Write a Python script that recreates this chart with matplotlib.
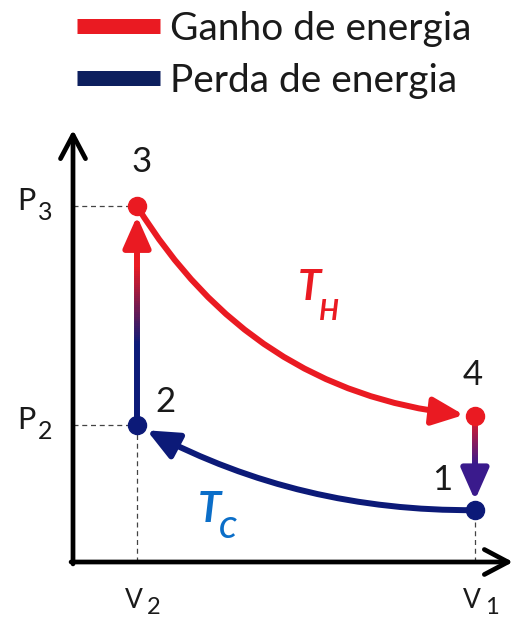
import matplotlib
matplotlib.use("Agg")
import matplotlib.pyplot as plt
import numpy as np
from matplotlib.patches import FancyArrowPatch
from matplotlib.collections import LineCollection
from matplotlib.colors import to_rgb
from matplotlib.lines import Line2D

plt.rcParams['font.family'] = ['Lato', 'DejaVu Sans']

# ---- data (arbitrary P-V units) ----
states = ['1', '2', '3', '4']
volume = [6.28, 1.0, 1.0, 6.28]        # V1, V2, V2, V1
pressure = [0.81, 2.14, 5.56, 2.28]
v_ticks = [1.0, 6.28]
v_tick_labels = [('V', '2'), ('V', '1')]
p_ticks = [2.14, 5.56]
p_tick_labels = [('P', '2'), ('P', '3')]
legend_labels = ['Ganho de energia', 'Perda de energia']
isotherm_labels = [('T', 'H'), ('T', 'C')]

RED = '#ea1a22'
NAVY = '#0c1a78'
PURPLE = '#3a1a8c'
TC_BLUE = '#0b6ec8'

W, H = 516, 621
X0, Y0, S = 73, 562, 64          # pixel position of origin and px per unit

fig = plt.figure(figsize=(W / 100, H / 100), dpi=100)
ax = fig.add_axes([0, 0, 1, 1])
ax.set_xlim(-X0 / S, (W - X0) / S)
ax.set_ylim(-(H - Y0) / S, Y0 / S)
ax.axis('off')


def px(x, y):
    return ((x - X0) / S, (Y0 - y) / S)


# ---- axes with arrows ----
axis_style = '->,head_length=0.85,head_width=0.45'
ax.annotate('', xy=(0, px(0, 130)[1]), xytext=(0, -0.03),
            arrowprops=dict(arrowstyle=axis_style, lw=3.4, color='black',
                            shrinkA=0, shrinkB=0, mutation_scale=20))
ax.annotate('', xy=(px(513, 0)[0], 0), xytext=(-0.03, 0),
            arrowprops=dict(arrowstyle=axis_style, lw=3.4, color='black',
                            shrinkA=0, shrinkB=0, mutation_scale=20))

# ---- dashed guide lines ----
dash = dict(color='#444444', lw=0.9, ls=(0, (4, 3)), zorder=1)
for p in p_ticks:
    ax.plot([0, v_ticks[0]], [p, p], **dash)
ax.plot([v_ticks[0], v_ticks[0]], [0, pressure[1]], **dash)
ax.plot([v_ticks[1], v_ticks[1]], [0, pressure[0]], **dash)

# ---- isotherm curves ----
head = '-|>,head_length=0.95,head_width=0.42'
a34 = FancyArrowPatch((volume[2], pressure[2]), (volume[3], pressure[3]),
                      connectionstyle='arc3,rad=0.25', arrowstyle=head,
                      mutation_scale=20, lw=4.3, color=RED,
                      shrinkA=0, shrinkB=8, zorder=3)
ax.add_patch(a34)
a12 = FancyArrowPatch((volume[0], pressure[0]), (volume[1], pressure[1]),
                      connectionstyle='arc3,rad=-0.13', arrowstyle=head,
                      mutation_scale=20, lw=4.3, color=NAVY,
                      shrinkA=0, shrinkB=8, zorder=3)
ax.add_patch(a12)


# ---- isochoric arrows with colour gradient ----
def grad_arrow(v, p_start, p_end, c_start, c_end, t0, t1):
    sign = np.sign(p_end - p_start)
    tip = p_end - sign * 10 / S
    head_base = tip - sign * 30 / S
    n = 80
    ps = np.linspace(p_start, head_base + sign * 2 / S, n + 1)
    segs = [[(v, ps[k]), (v, ps[k + 1])] for k in range(n)]
    ca, cb = np.array(to_rgb(c_start)), np.array(to_rgb(c_end))
    cols = []
    for k in range(n):
        t = (k + 0.5) / n
        f = np.clip((t - t0) / (t1 - t0), 0, 1)
        cols.append(ca * (1 - f) + cb * f)
    ax.add_collection(LineCollection(segs, colors=cols, linewidths=4.3,
                                     capstyle='butt', zorder=3))
    ax.add_patch(FancyArrowPatch((v, head_base), (v, tip), arrowstyle=head,
                                 mutation_scale=20, lw=4.3, color=c_end,
                                 shrinkA=0, shrinkB=0, zorder=3))


grad_arrow(volume[1], pressure[1], pressure[2], NAVY, RED, 0.45, 0.88)
grad_arrow(volume[3], pressure[3], pressure[0], RED, PURPLE, 0.0, 0.85)

# ---- state points ----
pt_colors = [NAVY, NAVY, RED, RED]
for v, p, c in zip(volume, pressure, pt_colors):
    ax.plot(v, p, 'o', ms=13, color=c, zorder=5)

# ---- state labels ----
offsets = [(-33, 30), (28, 23), (5, 44), (-2, 41)]
for s, v, p, off in zip(states, volume, pressure, offsets):
    ax.annotate(s, (v, p), xytext=off, textcoords='offset pixels',
                ha='center', va='center', fontsize=25, color='#1a1a1a')

# ---- axis tick labels with subscripts ----
for p, (m, sub) in zip(p_ticks, p_tick_labels):
    ax.annotate(m, (0, p), xytext=(-47, 5), textcoords='offset pixels',
                ha='center', va='center', fontsize=22, color='#1a1a1a')
    ax.annotate(sub, (0, p), xytext=(-28, -6), textcoords='offset pixels',
                ha='center', va='center', fontsize=18, color='#1a1a1a')
for v, (m, sub) in zip(v_ticks, v_tick_labels):
    ax.annotate(m, (v, 0), xytext=(-3, -39), textcoords='offset pixels',
                ha='center', va='center', fontsize=19, color='#1a1a1a')
    ax.annotate(sub, (v, 0), xytext=(17, -46), textcoords='offset pixels',
                ha='center', va='center', fontsize=17, color='#1a1a1a')

# ---- isotherm labels ----
(th_m, th_s), (tc_m, tc_s) = isotherm_labels
ax.text(*px(309, 288), th_m, color=RED, fontsize=30, fontweight='bold',
        fontstyle='italic', ha='center', va='center')
ax.text(*px(329, 312), th_s, color=RED, fontsize=20, fontweight='bold',
        fontstyle='italic', ha='center', va='center')
ax.text(*px(209, 510), tc_m, color=TC_BLUE, fontsize=30, fontweight='bold',
        fontstyle='italic', ha='center', va='center')
ax.text(*px(228, 530), tc_s, color=TC_BLUE, fontsize=20, fontweight='bold',
        fontstyle='italic', ha='center', va='center')

# ---- legend ----
handles = [Line2D([], [], color=RED, lw=10.8, solid_capstyle='butt'),
           Line2D([], [], color='#0d1f5e', lw=10.8, solid_capstyle='butt')]
ax.legend(handles, legend_labels, loc='upper left',
          bbox_to_anchor=(77 / W, 1 - 11 / H), bbox_transform=fig.transFigure,
          frameon=False, fontsize=28, handlelength=2.14, handletextpad=0.26,
          labelspacing=0.4, borderpad=0, borderaxespad=0, labelcolor='#1a1a1a')

fig.savefig('out.png', dpi=100)
